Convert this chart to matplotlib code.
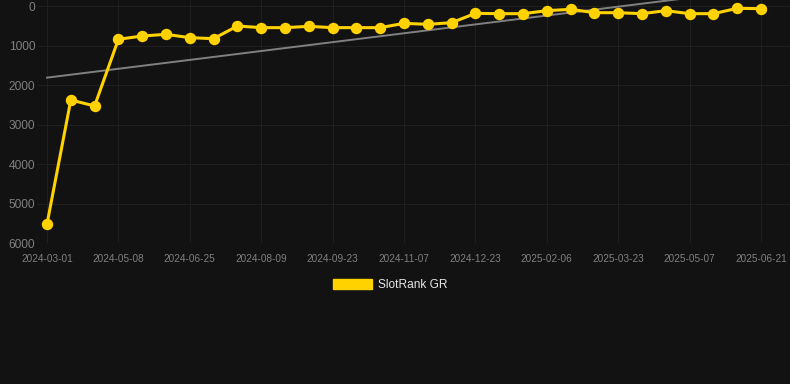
import matplotlib.pyplot as plt
import numpy as np
from matplotlib.patches import Patch

# rank values (lower is better, axis is inverted)
ranks = [5520, 2380, 2530, 843, 760, 717, 802, 827, 506, 548,
         548, 515, 548, 548, 548, 439, 464, 422, 186, 194,
         194, 118, 84, 169, 169, 194, 118, 194, 194, 59, 67]
tick_labels = ['2024-03-01', '2024-05-08', '2024-06-25', '2024-08-09',
               '2024-09-23', '2024-11-07', '2024-12-23', '2025-02-06',
               '2025-03-23', '2025-05-07', '2025-06-21']
y_ticks = [0, 1000, 2000, 3000, 4000, 5000, 6000]
series_name = 'SlotRank GR'

bg = '#121212'
yellow = '#ffd200'

x = np.arange(len(ranks))
slope, intercept = np.polyfit(x, ranks, 1)

fig = plt.figure(figsize=(7.9, 3.84), dpi=100, facecolor=bg)
ax = fig.add_axes([38 / 790, 1 - 243 / 384, 1 - 38 / 790, 243 / 384])
ax.set_facecolor(bg)

ax.plot(x, intercept + slope * x, color='#808080', linewidth=1.4, zorder=2)
ax.plot(x, ranks, color=yellow, linewidth=2.2, marker='o', markersize=7.2,
        zorder=3)

ax.set_xlim(-(47 - 38) / 23.8, (790 - 47) / 23.8)
ax.set_ylim(6000, -152)

ax.set_xticks(x[::3])
ax.set_xticklabels(tick_labels)
ax.set_yticks(y_ticks)
ax.tick_params(axis='x', length=0, pad=8, labelsize=7.2, labelcolor='#808080')
ax.tick_params(axis='y', length=0, pad=2, labelsize=8.6, labelcolor='#808080')
ax.grid(True, color='#1f1f1f', linewidth=0.8)
ax.set_axisbelow(True)
for s in ax.spines.values():
    s.set_visible(False)

plt.rcParams['font.family'] = ['Liberation Sans', 'DejaVu Sans']
for t in ax.get_xticklabels() + ax.get_yticklabels():
    t.set_family(['Liberation Sans', 'DejaVu Sans'])

fig.legend(handles=[Patch(facecolor=yellow, edgecolor=yellow, label=series_name)],
           loc='center', bbox_to_anchor=(390 / 790, 1 - 285 / 384),
           frameon=False, handlelength=3.3, handleheight=0.9,
           handletextpad=0.5, labelcolor='#e6e6e6',
           prop={'family': ['Liberation Sans', 'DejaVu Sans'], 'size': 8.6})

fig.savefig('out.png', dpi=100, facecolor=bg)
